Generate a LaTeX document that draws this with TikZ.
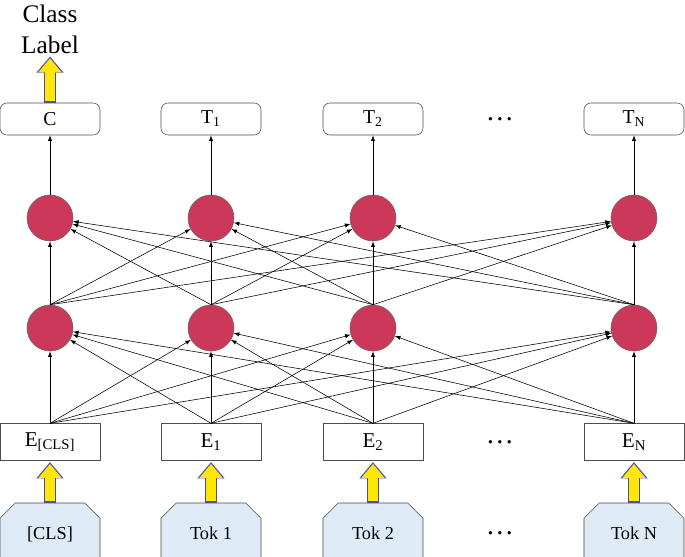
\documentclass[tikz,border=0pt]{standalone}
\usepackage{fontspec}
\setmainfont{Liberation Serif}
\usetikzlibrary{shapes.geometric, shapes.misc, arrows, arrows.meta, positioning}
\definecolor{neuronred}{RGB}{204,56,90}
\definecolor{tokblue}{RGB}{222,235,247}

\begin{document}
\begin{tikzpicture}[
    x=0.025cm, y=-0.025cm,
    outbox/.style={rectangle, rounded corners=5pt, draw=black!70, minimum width=2.5cm, minimum height=0.8cm, font=\fontsize{14}{16}\selectfont},
    embbox/.style={rectangle, draw=black!70, minimum width=2.5cm, minimum height=0.92cm, font=\fontsize{15}{17}\selectfont},
    tokbox/.style={chamfered rectangle, chamfered rectangle corners={north west, north east}, chamfered rectangle xsep=8pt, draw=black!70, fill=tokblue, minimum width=2.5cm, minimum height=1.5cm, font=\fontsize{13}{15}\selectfont, text depth=0pt},
    neuron/.style={circle, draw=black!60, fill=neuronred, minimum size=1.15cm, inner sep=0pt},
    arrow/.style={-latex, thin},
    fat/.style={-{Triangle[width=16pt,length=10pt]}, line width=7pt, draw=yellow!90!orange},
    fatedge/.style={-{Triangle[width=18.5pt,length=11.5pt]}, line width=8.8pt, draw=blue!50!black!70}
]
\useasboundingbox (0,0) rectangle (685,557);

% Output layer
\node[outbox] (c) at (50,119) {C};
\node[outbox] (t1) at (211,119) {T\textsubscript{1}};
\node[outbox] (t2) at (373,119) {T\textsubscript{2}};
\node[outbox] (tn) at (634,119) {T\textsubscript{N}};
\node[font=\fontsize{20}{20}\selectfont] (dots1) at (500,119) {\dots};

% Hidden layers
\foreach \n/\x in {a/50, b/211, c/373, n/634} {
    \node[neuron] (h2\n) at (\x,218) {};
    \node[neuron] (h1\n) at (\x,328) {};
}

% Embeddings
\node[embbox] (ecls) at (50,442) {E\textsubscript{[CLS]}};
\node[embbox] (e1) at (211,442) {E\textsubscript{1}};
\node[embbox] (e2) at (373,442) {E\textsubscript{2}};
\node[embbox] (en) at (634,442) {E\textsubscript{N}};
\node[font=\fontsize{20}{20}\selectfont] (dots2) at (500,442) {\dots};

% Tokens
\node[tokbox] (tcls) at (50,533) {[CLS]};
\node[tokbox] (tok1) at (211,533) {Tok 1};
\node[tokbox] (tok2) at (373,533) {Tok 2};
\node[tokbox] (tokn) at (634,533) {Tok N};
\node[font=\fontsize{20}{20}\selectfont] (dots3) at (500,533) {\dots};

% Class label
\node[align=center, inner sep=1pt, font=\fontsize{18}{22}\selectfont] (label) at (50,29) {Class\\Label};

% Connections
\foreach \e in {ecls, e1, e2, en} {
    \foreach \h in {a, b, c, n} {
        \draw[arrow] (\e.north) -- (h1\h);
    }
}
\foreach \s in {a, b, c, n} {
    \foreach \h in {a, b, c, n} {
        \draw[arrow] (h1\s.north) -- (h2\h);
    }
}
\draw[arrow] (h2a) -- (c);
\draw[arrow] (h2b) -- (t1);
\draw[arrow] (h2c) -- (t2);
\draw[arrow] (h2n) -- (tn);

% Block arrows
\foreach \a/\b in {tcls/ecls, tok1/e1, tok2/e2, tokn/en} {
    \draw[fatedge, shorten >=1pt] (\a.north) -- (\b.south);
    \draw[fat, shorten >=2.3pt, shorten <=0.9pt] (\a.north) -- (\b.south);
}
\draw[fatedge, shorten >=1pt] (c.north) -- (label.south);
\draw[fat, shorten >=2.3pt, shorten <=0.9pt] (c.north) -- (label.south);

\end{tikzpicture}
\end{document}
